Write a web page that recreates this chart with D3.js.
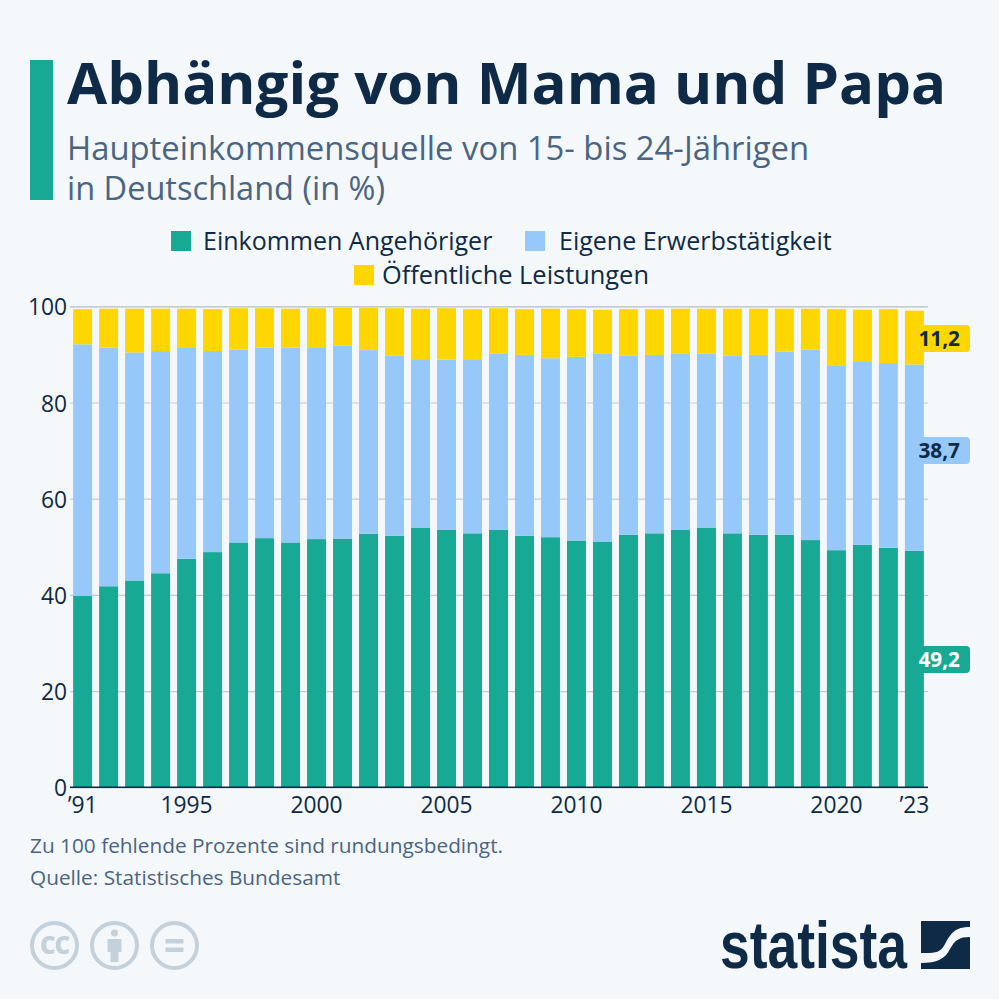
<!DOCTYPE html>
<html>
<head>
<meta charset="utf-8">
<script src="https://cdn.jsdelivr.net/npm/d3@7"></script>
<style>
  html, body { margin: 0; padding: 0; background: #f5f8fb; }
  svg { display: block; font-family: "Open Sans", sans-serif; }
  .axis text { fill: #0f2a47; font-size: 22.8px; font-family: "Open Sans", sans-serif; }
</style>
</head>
<body>
<script>
var years = d3.range(1991, 2024);
var angehoerige = [39.8, 41.8, 43.0, 44.5, 47.5, 48.9, 50.9, 51.8, 50.9, 51.6, 51.7, 52.7, 52.3, 54.0, 53.5, 52.8, 53.5,
                   52.3, 52.0, 51.3, 51.1, 52.5, 52.8, 53.5, 54.0, 52.8, 52.5, 52.5, 51.4, 49.3, 50.4, 49.8, 49.2];
var erwerb = [52.3, 49.6, 47.4, 46.2, 44.0, 41.8, 40.1, 39.6, 40.5, 39.9, 40.1, 38.2, 37.4, 35.0, 35.4, 36.2, 36.6,
              37.6, 37.2, 38.2, 39.0, 37.2, 37.1, 36.6, 36.2, 37.0, 37.4, 38.1, 39.6, 38.3, 38.2, 38.4, 38.7];
var leistungen = [7.3, 8.1, 9.1, 8.8, 8.0, 8.7, 8.6, 8.2, 8.1, 8.1, 7.9, 8.8, 9.9, 10.5, 10.7, 10.4, 9.5,
                  9.5, 10.3, 9.9, 9.2, 9.7, 9.5, 9.4, 9.3, 9.7, 9.6, 8.9, 8.5, 11.8, 10.7, 11.2, 11.2];
var seriesNames = ['Einkommen Angehöriger', 'Eigene Erwerbstätigkeit', 'Öffentliche Leistungen'];
var seriesKeys = ['a', 'e', 'l'];
var colours = ['#18a995', '#96c9fa', '#ffd600'];
var yTicks = [0, 20, 40, 60, 80, 100];
var xTicks = [1991, 1995, 2000, 2005, 2010, 2015, 2020, 2023];
var xLabels = ['’91', '1995', '2000', '2005', '2010', '2015', '2020', '’23'];

var navy = '#0f2a47', slate = '#4a6583';

var svg = d3.select('body').append('svg').attr('width', 999).attr('height', 999);

// header
svg.append('rect').attr('x', 30).attr('y', 60).attr('width', 23).attr('height', 140).attr('fill', '#18a995');
svg.append('text').attr('x', 67).attr('y', 104).text('Abhängig von Mama und Papa')
   .attr('font-size', 58.2).attr('font-weight', 700).attr('fill', navy);
svg.append('text').attr('x', 67).attr('y', 160).text('Haupteinkommensquelle von 15- bis 24-Jährigen')
   .attr('font-size', 32.8).attr('fill', slate);
svg.append('text').attr('x', 67).attr('y', 200).text('in Deutschland (in %)')
   .attr('font-size', 32.5).attr('fill', slate);

// legend
var legendAt = [[171, 231, 203], [525, 231, 559], [354, 265, 382]];
var legendSize = [25, 25, 25.4];
seriesNames.forEach(function(name, i) {
  svg.append('rect').attr('x', legendAt[i][0]).attr('y', legendAt[i][1]).attr('width', 20).attr('height', 20)
     .attr('fill', colours[i]);
  svg.append('text').attr('x', legendAt[i][2]).attr('y', legendAt[i][1] + 18.5).text(name)
     .attr('font-size', legendSize[i]).attr('fill', navy);
});

// chart
var x = d3.scaleBand().domain(years).range([70, 927]).paddingInner(0.27).paddingOuter(0.12);
var y = d3.scaleLinear().domain([0, 100]).range([787.3, 306.3]);

var yAxis = d3.axisLeft(y).tickValues(yTicks).tickSize(858).tickPadding(3);
var yG = svg.append('g').attr('class', 'axis').attr('transform', 'translate(928,0)').call(yAxis);
yG.select('.domain').remove();
yG.selectAll('.tick line')
  .attr('stroke', function(d) { return d === 100 ? '#b2bdcb' : '#c3cad1'; })
  .attr('stroke-width', 1.2);
yG.selectAll('.tick text').attr('x', -861).attr('dy', '0.38em');

var rows = years.map(function(yr, i) {
  return { year: yr, a: angehoerige[i], e: erwerb[i], l: leistungen[i] };
});
var stacked = d3.stack().keys(seriesKeys)(rows);

svg.append('g').selectAll('g').data(stacked).join('g')
    .attr('fill', function(d, i) { return colours[i]; })
  .selectAll('rect').data(function(d) { return d; }).join('rect')
    .attr('x', function(d) { return x(d.data.year); })
    .attr('width', x.bandwidth())
    .attr('y', function(d) { return y(d[1]); })
    .attr('height', function(d) { return y(d[0]) - y(d[1]); });

svg.append('line').attr('x1', 70).attr('x2', 928).attr('y1', y(0)).attr('y2', y(0))
   .attr('stroke', navy).attr('stroke-width', 1.5);

var xAxis = d3.axisBottom(x).tickValues(xTicks).tickSize(0).tickPadding(9.5)
  .tickFormat(function(d) { return xLabels[xTicks.indexOf(d)]; });
var xG = svg.append('g').attr('class', 'axis').attr('transform', 'translate(0,' + y(0) + ')').call(xAxis);
xG.select('.domain').remove();

// end labels on the last bar
var last = stacked.map(function(s) { return s[s.length - 1]; });
var lastValues = [angehoerige[32], erwerb[32], leistungen[32]];
var labelShift = [-9.5, -7, 1];
last.forEach(function(d, i) {
  var cy = (y(d[0]) + y(d[1])) / 2 + labelShift[i];
  svg.append('rect').attr('x', 915).attr('y', cy - 13.5).attr('width', 55).attr('height', 27).attr('rx', 4)
     .attr('fill', colours[i]);
  svg.append('text').attr('x', 960).attr('y', cy + 7.5).attr('text-anchor', 'end')
     .text(d3.format('.1f')(lastValues[i]).replace('.', ','))
     .attr('font-size', 20.8).attr('font-weight', 700).attr('fill', i === 0 ? '#fff' : navy);
});

// notes
svg.append('text').attr('x', 30).attr('y', 853).text('Zu 100 fehlende Prozente sind rundungsbedingt.')
   .attr('font-size', 20.8).attr('fill', slate);
svg.append('text').attr('x', 30).attr('y', 885).text('Quelle: Statistisches Bundesamt')
   .attr('font-size', 20.8).attr('fill', slate);

// licence icons
var grey = '#c5d1da';
var cc = svg.append('g');
[54.5, 114.5, 174.5].forEach(function(cx) {
  cc.append('circle').attr('cx', cx).attr('cy', 945.5).attr('r', 22.5)
    .attr('fill', 'none').attr('stroke', grey).attr('stroke-width', 4);
});
cc.append('text').attr('x', 54.5).attr('y', 954).attr('text-anchor', 'middle').text('CC')
  .attr('font-size', 24).attr('font-weight', 800).attr('letter-spacing', -1).attr('fill', grey);
cc.append('circle').attr('cx', 114.5).attr('cy', 933).attr('r', 3.5).attr('fill', grey);
cc.append('path').attr('d', 'M107.5 939h14v13h-3v10h-8v-10h-3z').attr('fill', grey);
cc.append('rect').attr('x', 165.5).attr('y', 939).attr('width', 18).attr('height', 4.5).attr('fill', grey);
cc.append('rect').attr('x', 165.5).attr('y', 947.5).attr('width', 18).attr('height', 4.5).attr('fill', grey);

// statista logo
svg.append('text').attr('x', 720).attr('y', 968).text('statista')
   .attr('font-family', '"Liberation Sans Narrow", "Liberation Sans", sans-serif')
   .attr('font-size', 66).attr('font-weight', 700).attr('fill', navy)
   .attr('textLength', 187).attr('lengthAdjust', 'spacingAndGlyphs');
var logo = svg.append('g').attr('transform', 'translate(921,921)').attr('fill', navy);
logo.append('path').attr('d', 'M0 0H49V6C34 6 30 12 24 23C19 33 12 32 0 32Z');
logo.append('path').attr('d', 'M49 16V48H0V42C16 42 24 38 29 28C34 19 38 16 49 16Z');
</script>
</body>
</html>
